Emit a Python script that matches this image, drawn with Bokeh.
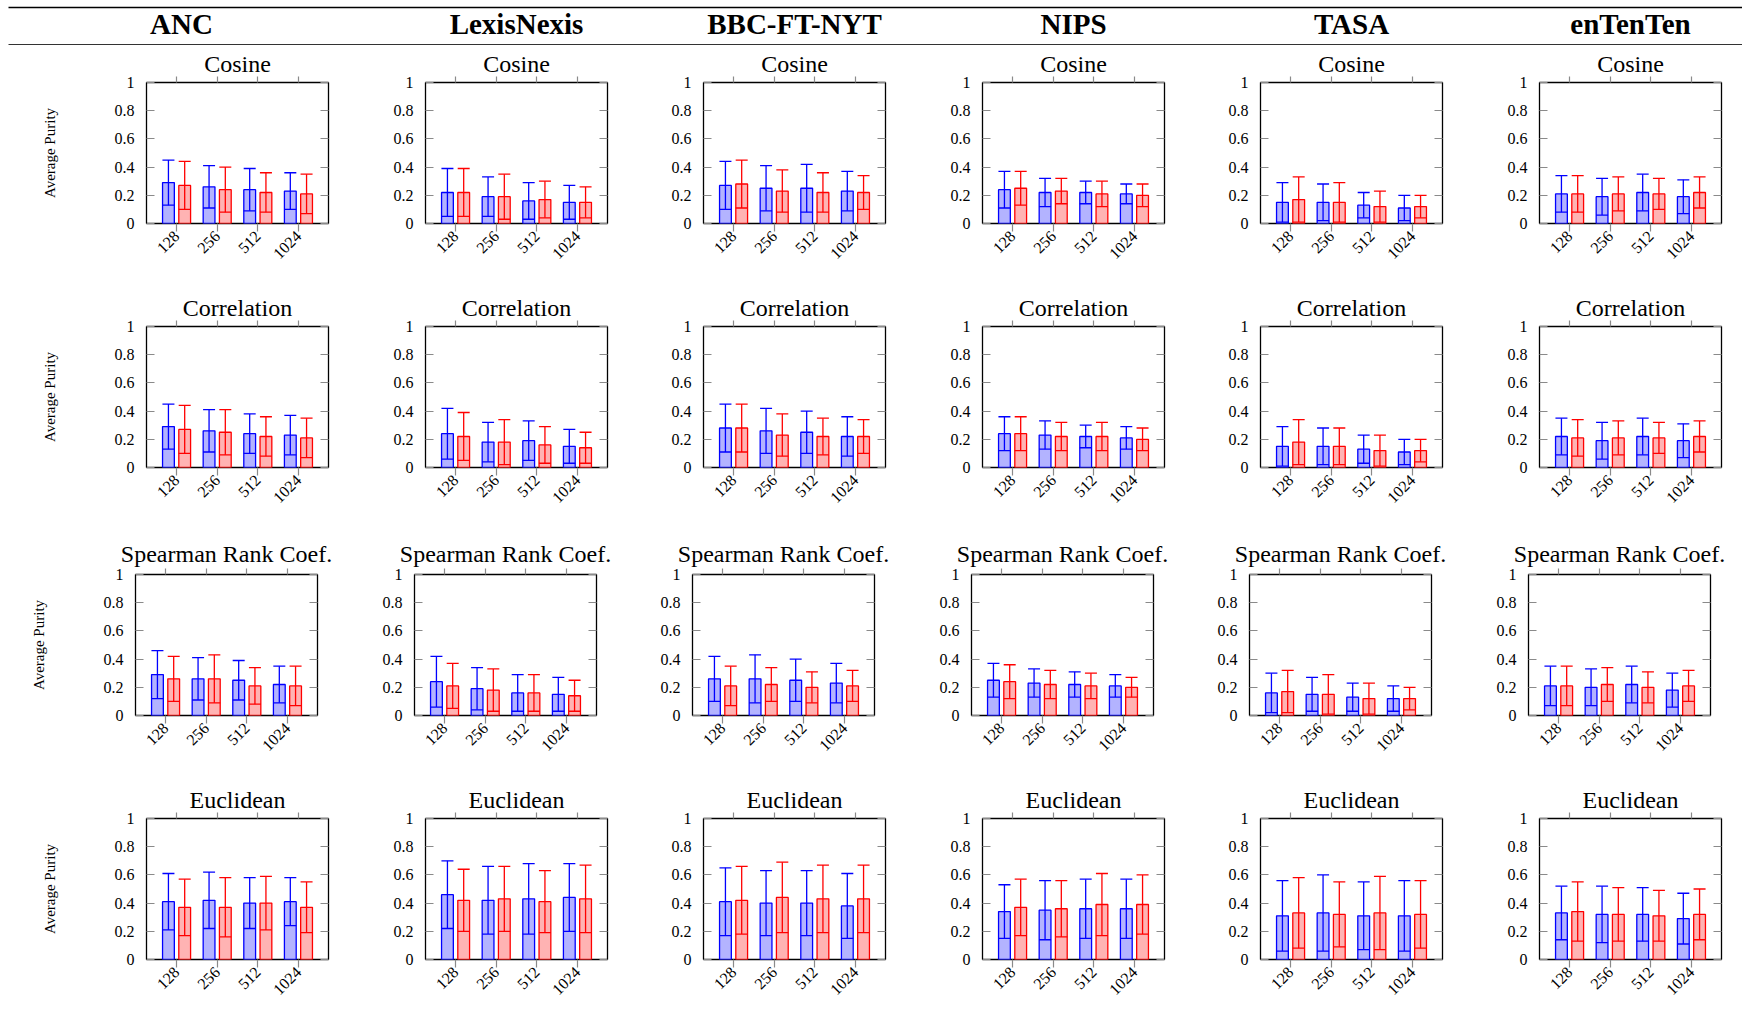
import math

from bokeh.core.properties import value
from bokeh.embed import file_html
from bokeh.layouts import column, row
from bokeh.models import (ColumnDataSource, CustomJSTickFormatter, FixedTicker,
                          LinearAxis, Range1d, TeeHead, Whisker)
from bokeh.plotting import figure
from bokeh.resources import INLINE

# ---------------------------------------------------------------- data
DIMENSIONS = ["128", "256", "512", "1024"]
CORPORA = ["ANC", "LexisNexis", "BBC-FT-NYT", "NIPS", "TASA", "enTenTen"]
MEASURES = ["Cosine", "Correlation", "Spearman Rank Coef.", "Euclidean"]
Y_TICKS = [0, 0.2, 0.4, 0.6, 0.8, 1]

# average purity (mean, std) per measure (rows) and dimension (columns);
# series A is drawn in blue, series B in red
ANC_A_MEAN = [[0.29, 0.26, 0.24, 0.23], [0.29, 0.26, 0.24, 0.23], [0.29, 0.26, 0.25, 0.22], [0.41, 0.42, 0.40, 0.41]]
ANC_A_SD = [[0.16, 0.15, 0.15, 0.13], [0.16, 0.15, 0.14, 0.14], [0.17, 0.15, 0.14, 0.13], [0.20, 0.20, 0.18, 0.17]]
ANC_B_MEAN = [[0.27, 0.24, 0.22, 0.21], [0.27, 0.25, 0.22, 0.21], [0.26, 0.26, 0.21, 0.21], [0.37, 0.37, 0.40, 0.37]]
ANC_B_SD = [[0.17, 0.16, 0.14, 0.14], [0.17, 0.16, 0.14, 0.14], [0.16, 0.17, 0.13, 0.14], [0.20, 0.21, 0.19, 0.18]]

LEXIS_A_MEAN = [[0.22, 0.19, 0.16, 0.15], [0.24, 0.18, 0.19, 0.15], [0.24, 0.19, 0.16, 0.15], [0.46, 0.42, 0.43, 0.44]]
LEXIS_A_SD = [[0.17, 0.14, 0.13, 0.12], [0.18, 0.14, 0.14, 0.12], [0.18, 0.15, 0.13, 0.12], [0.24, 0.24, 0.25, 0.24]]
LEXIS_B_MEAN = [[0.22, 0.19, 0.17, 0.15], [0.22, 0.18, 0.16, 0.14], [0.21, 0.18, 0.16, 0.14], [0.42, 0.43, 0.41, 0.43]]
LEXIS_B_SD = [[0.17, 0.16, 0.13, 0.11], [0.17, 0.16, 0.13, 0.11], [0.16, 0.15, 0.13, 0.11], [0.22, 0.23, 0.22, 0.24]]

BBC_A_MEAN = [[0.27, 0.25, 0.25, 0.23], [0.28, 0.26, 0.25, 0.22], [0.26, 0.26, 0.25, 0.23], [0.41, 0.40, 0.40, 0.38]]
BBC_A_SD = [[0.17, 0.16, 0.17, 0.14], [0.17, 0.16, 0.15, 0.14], [0.16, 0.17, 0.15, 0.14], [0.24, 0.23, 0.23, 0.23]]
BBC_B_MEAN = [[0.28, 0.23, 0.22, 0.22], [0.28, 0.23, 0.22, 0.22], [0.21, 0.22, 0.20, 0.21], [0.42, 0.44, 0.43, 0.43]]
BBC_B_SD = [[0.17, 0.15, 0.14, 0.12], [0.17, 0.15, 0.13, 0.12], [0.14, 0.12, 0.11, 0.11], [0.24, 0.25, 0.24, 0.24]]

NIPS_A_MEAN = [[0.24, 0.22, 0.22, 0.21], [0.24, 0.23, 0.22, 0.21], [0.25, 0.23, 0.22, 0.21], [0.34, 0.35, 0.36, 0.36]]
NIPS_A_SD = [[0.13, 0.10, 0.08, 0.07], [0.12, 0.10, 0.08, 0.08], [0.12, 0.10, 0.09, 0.08], [0.19, 0.21, 0.21, 0.21]]
NIPS_B_MEAN = [[0.25, 0.23, 0.21, 0.20], [0.24, 0.22, 0.22, 0.20], [0.24, 0.22, 0.21, 0.20], [0.37, 0.36, 0.39, 0.39]]
NIPS_B_SD = [[0.12, 0.09, 0.09, 0.08], [0.12, 0.10, 0.10, 0.08], [0.12, 0.10, 0.09, 0.07], [0.20, 0.20, 0.22, 0.21]]

TASA_A_MEAN = [[0.15, 0.15, 0.13, 0.11], [0.15, 0.15, 0.13, 0.11], [0.16, 0.15, 0.13, 0.12], [0.31, 0.33, 0.31, 0.31]]
TASA_A_SD = [[0.14, 0.13, 0.09, 0.09], [0.14, 0.13, 0.10, 0.09], [0.14, 0.12, 0.10, 0.09], [0.25, 0.27, 0.24, 0.25]]
TASA_B_MEAN = [[0.17, 0.15, 0.12, 0.12], [0.18, 0.15, 0.12, 0.12], [0.17, 0.15, 0.12, 0.12], [0.33, 0.32, 0.33, 0.32]]
TASA_B_SD = [[0.16, 0.14, 0.11, 0.08], [0.16, 0.13, 0.11, 0.08], [0.15, 0.14, 0.11, 0.08], [0.25, 0.23, 0.26, 0.24]]

ENTENTEN_A_MEAN = [[0.21, 0.19, 0.22, 0.19], [0.22, 0.19, 0.22, 0.19], [0.21, 0.20, 0.22, 0.18], [0.33, 0.32, 0.32, 0.29]]
ENTENTEN_A_SD = [[0.13, 0.13, 0.13, 0.12], [0.13, 0.13, 0.13, 0.12], [0.14, 0.13, 0.13, 0.12], [0.19, 0.20, 0.19, 0.18]]
ENTENTEN_B_MEAN = [[0.21, 0.21, 0.21, 0.22], [0.21, 0.21, 0.21, 0.22], [0.21, 0.22, 0.20, 0.21], [0.34, 0.32, 0.31, 0.32]]
ENTENTEN_B_SD = [[0.13, 0.12, 0.11, 0.11], [0.13, 0.12, 0.11, 0.11], [0.14, 0.12, 0.11, 0.11], [0.21, 0.19, 0.18, 0.18]]

SERIES = {
    "ANC": (ANC_A_MEAN, ANC_A_SD, ANC_B_MEAN, ANC_B_SD),
    "LexisNexis": (LEXIS_A_MEAN, LEXIS_A_SD, LEXIS_B_MEAN, LEXIS_B_SD),
    "BBC-FT-NYT": (BBC_A_MEAN, BBC_A_SD, BBC_B_MEAN, BBC_B_SD),
    "NIPS": (NIPS_A_MEAN, NIPS_A_SD, NIPS_B_MEAN, NIPS_B_SD),
    "TASA": (TASA_A_MEAN, TASA_A_SD, TASA_B_MEAN, TASA_B_SD),
    "enTenTen": (ENTENTEN_A_MEAN, ENTENTEN_A_SD, ENTENTEN_B_MEAN, ENTENTEN_B_SD),
}

# ---------------------------------------------------------------- styling / geometry
FONT = "Liberation Serif"
PAGE_W = 1742
HEADER_H = 48
FRAME_W = 182
FRAME_H = 141
COL_WIDTHS = [365, 278, 279, 278, 279, 263]
FIRST_LEFT = 146                     # left border of the first column
OTHER_LEFT = 60                      # left border of the other columns
ROW_SHIFT = [0, 0, -11, 0]           # horizontal shift of a row's frames
TOP_TICK = 6                         # outward length of the top ticks
ROW_TOP = [34, 36, 40, 34]           # border above each row's frames (title + ticks)
ROW_BOTTOM = [67, 67, 69, 64]        # border below each row's frames
TITLE_STANDOFF = [0, 0, 3, 0]
HEADER_X = [181, 516, 794, 1073, 1351, 1630]

BLUE, BLUE_FILL = "#0000ff", "#b3b3ff"
RED, RED_FILL = "#ff0000", "#ffb3b3"
TICK_COLOR = "#8a8a8a"
BAR_SHIFT = 0.2
BAR_WIDTH = 0.29


def header():
    p = figure(width=PAGE_W, height=HEADER_H, x_range=Range1d(0, PAGE_W), y_range=Range1d(HEADER_H, 0),
               output_backend="svg", toolbar_location=None, min_border=0)
    p.axis.visible = False
    p.grid.visible = False
    p.outline_line_color = None
    p.segment(x0=[8], y0=[7], x1=[PAGE_W], y1=[7], line_color="black", line_width=1.5)
    p.segment(x0=[8], y0=[44], x1=[PAGE_W], y1=[44], line_color="#333333", line_width=1.0)
    p.text(x=HEADER_X, y=[23] * len(CORPORA), text=CORPORA, text_font=value(FONT),
           text_font_style="bold", text_font_size="29px", text_align="center",
           text_baseline="middle", text_color="black")
    return p


def add_bars(p, xs, means, sds, line, fill):
    src = ColumnDataSource(dict(
        x=xs, top=means,
        lower=[m - s for m, s in zip(means, sds)],
        upper=[m + s for m, s in zip(means, sds)],
    ))
    p.vbar(x="x", top="top", bottom=0, width=BAR_WIDTH, source=src,
           fill_color=fill, line_color=line, line_width=1.3)
    p.add_layout(Whisker(source=src, base="x", lower="lower", upper="upper", dimension="height",
                         level="annotation", line_color=line, line_width=1.3,
                         upper_head=TeeHead(size=12, line_color=line, line_width=1.3),
                         lower_head=TeeHead(size=12, line_color=line, line_width=1.3)))


def silent_axis(ticker, tick_in, tick_out):
    # an axis that only contributes tick marks
    return LinearAxis(ticker=ticker, major_tick_in=tick_in, major_tick_out=tick_out,
                      major_tick_line_color=TICK_COLOR, major_tick_line_width=1.2,
                      minor_tick_line_color=None, axis_line_color=None,
                      major_label_text_color=None, major_label_text_font_size="0px",
                      major_label_standoff=0)


def panel(ri, ci):
    width = COL_WIDTHS[ci]
    left = (FIRST_LEFT if ci == 0 else OTHER_LEFT) + ROW_SHIFT[ri]
    right = width - left - FRAME_W
    p = figure(width=width, height=ROW_TOP[ri] + FRAME_H + ROW_BOTTOM[ri],
               x_range=Range1d(0.26, 4.74), y_range=Range1d(0, 1),
               output_backend="svg", toolbar_location=None,
               min_border_left=left, min_border_right=right,
               min_border_top=ROW_TOP[ri], min_border_bottom=ROW_BOTTOM[ri],
               title=MEASURES[ri])
    p.title.align = "center"
    p.title.text_font = FONT
    p.title.text_font_size = "24px"
    p.title.text_font_style = "normal"
    p.title.text_color = "black"
    p.title.standoff = TITLE_STANDOFF[ri]

    p.grid.visible = False
    p.outline_line_color = "black"
    p.outline_line_width = 1.3
    p.background_fill_color = "white"
    p.border_fill_color = "white"

    x_ticker = FixedTicker(ticks=[1, 2, 3, 4])
    y_ticker = FixedTicker(ticks=Y_TICKS)

    xa = p.xaxis[0]
    xa.ticker = x_ticker
    xa.formatter = CustomJSTickFormatter(args=dict(labels=DIMENSIONS),
                                         code="return labels[Math.round(tick) - 1]")
    xa.major_label_orientation = math.pi / 4
    xa.major_tick_in = 0
    xa.major_tick_out = 8
    xa.major_tick_line_width = 1.2
    xa.major_label_standoff = 2
    xa.minor_tick_line_color = None
    xa.axis_line_color = None
    xa.major_tick_line_color = TICK_COLOR
    xa.major_label_text_font = FONT
    xa.major_label_text_font_size = "16px"
    xa.major_label_text_color = "black"

    ya = p.yaxis[0]
    ya.ticker = y_ticker
    ya.formatter = CustomJSTickFormatter(code="return tick.toString()")
    ya.major_tick_in = 8
    ya.major_tick_out = 0
    ya.major_tick_line_width = 1.2
    ya.major_label_standoff = 12
    ya.minor_tick_line_color = None
    ya.axis_line_color = None
    ya.major_tick_line_color = TICK_COLOR
    ya.major_label_text_font = FONT
    ya.major_label_text_font_size = "16px"
    ya.major_label_text_color = "black"
    if ci == 0:
        ya.axis_label = "Average Purity"
        ya.axis_label_text_font = FONT
        ya.axis_label_text_font_size = "15px"
        ya.axis_label_text_font_style = "normal"
        ya.axis_label_text_color = "black"
        ya.axis_label_standoff = 54

    p.add_layout(silent_axis(x_ticker, 0, TOP_TICK), "above")
    p.add_layout(silent_axis(y_ticker, 8, 0), "right")

    a_mean, a_sd, b_mean, b_sd = SERIES[CORPORA[ci]]
    pos = [i + 1 for i in range(len(DIMENSIONS))]
    add_bars(p, [x - BAR_SHIFT for x in pos], a_mean[ri], a_sd[ri], BLUE, BLUE_FILL)
    add_bars(p, [x + BAR_SHIFT for x in pos], b_mean[ri], b_sd[ri], RED, RED_FILL)
    return p


parts = [header()]
for ri in range(len(MEASURES)):
    parts.append(row(*[panel(ri, ci) for ci in range(len(CORPORA))], spacing=0))
layout = column(*parts, spacing=0)

open("out.html", "w").write(file_html(layout, INLINE))
